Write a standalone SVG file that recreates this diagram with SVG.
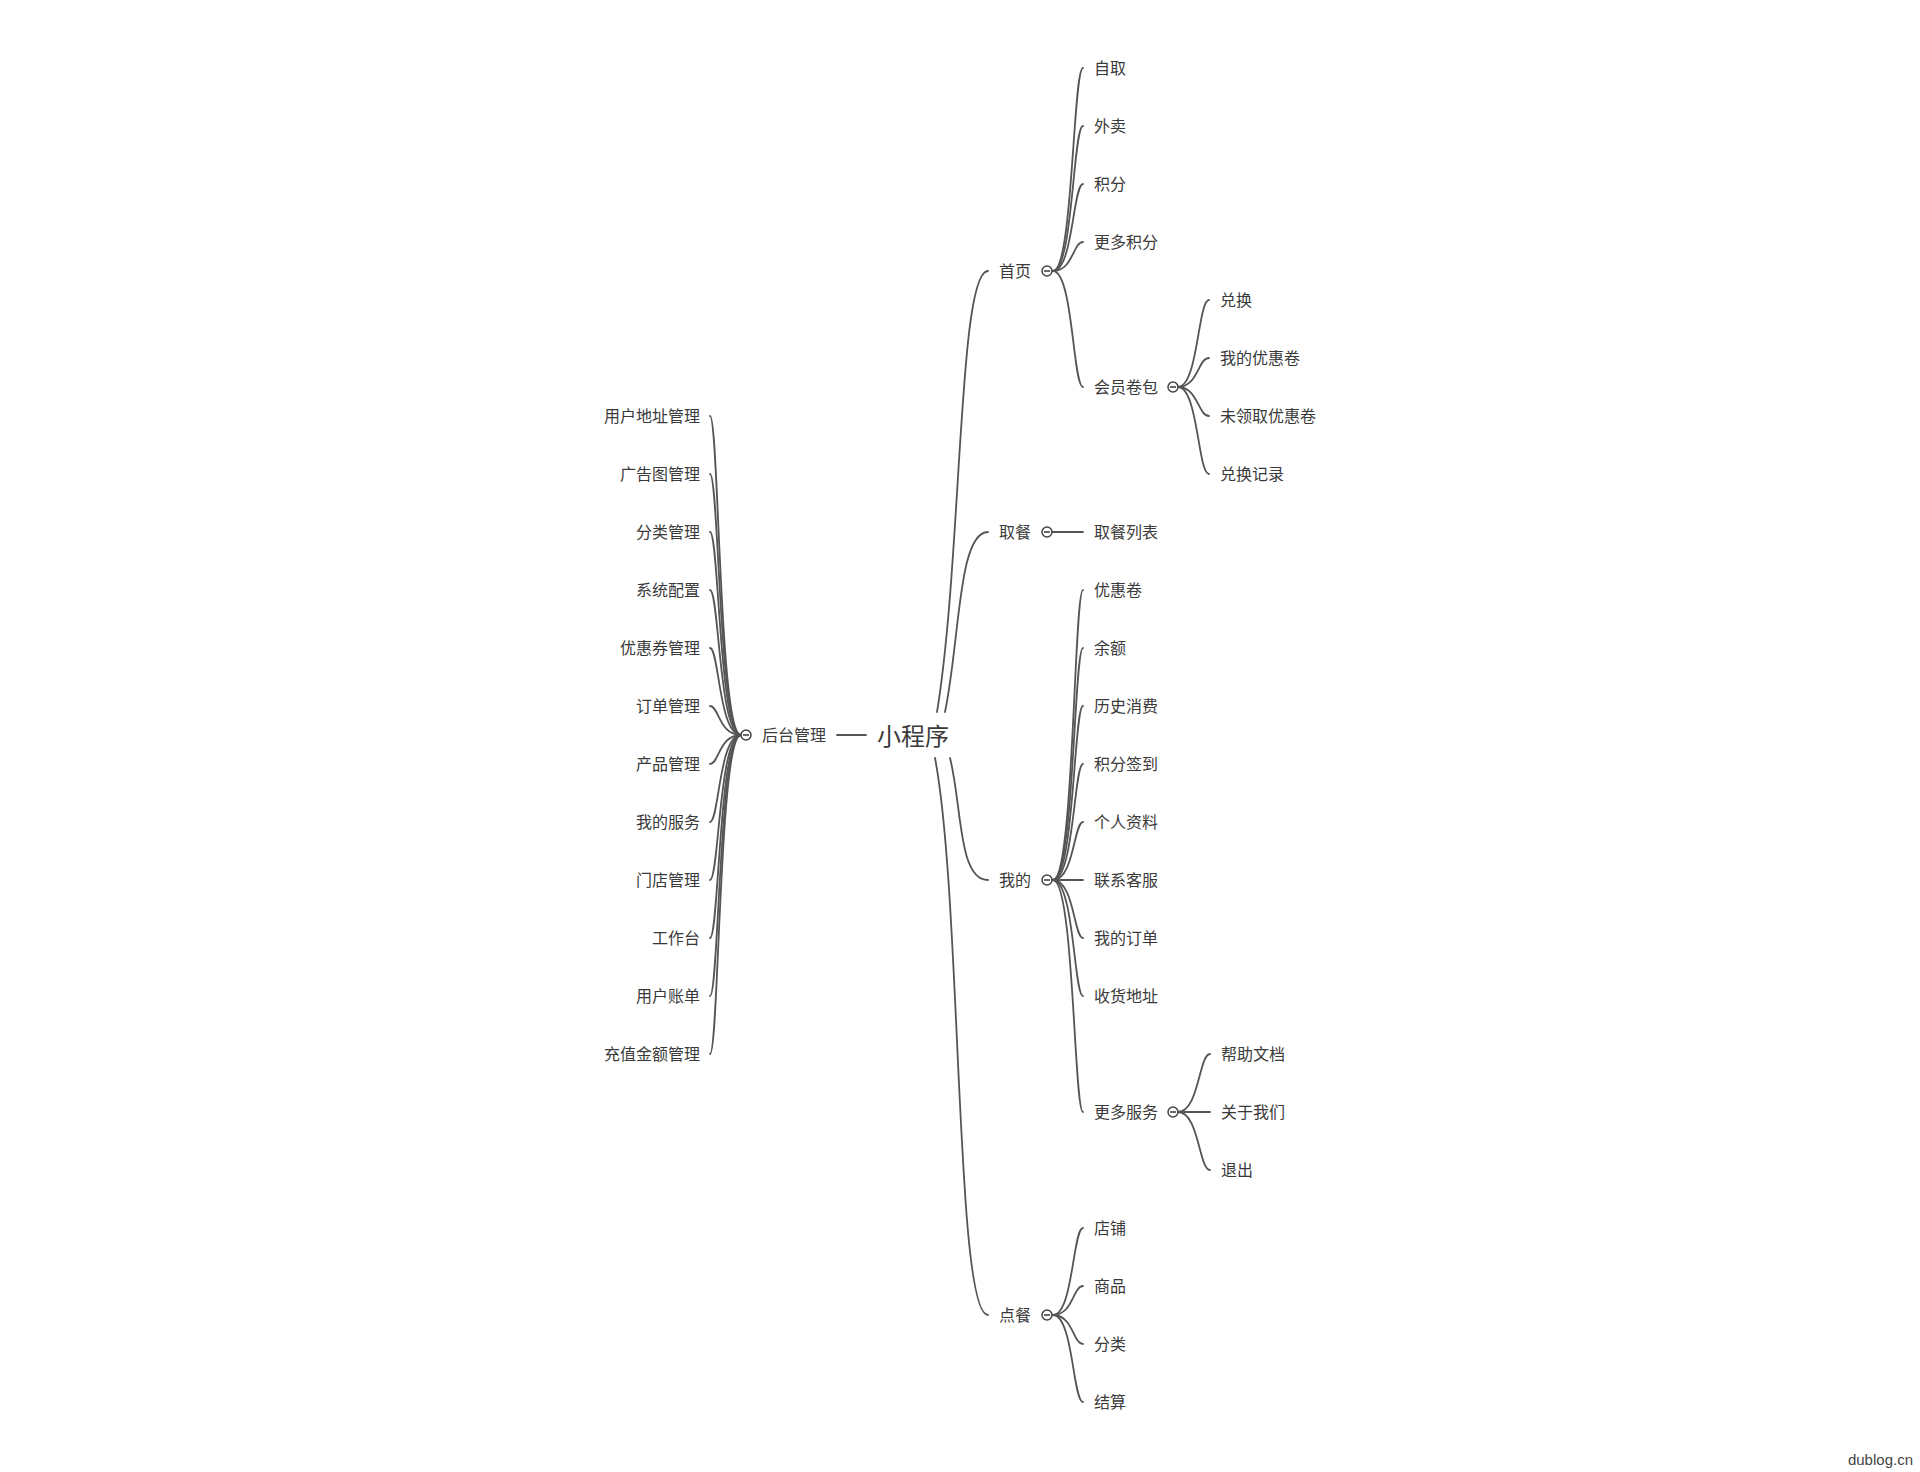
<svg xmlns="http://www.w3.org/2000/svg" xmlns:xlink="http://www.w3.org/1999/xlink" width="1920" height="1472" viewBox="0 0 1920 1472">
<style>
text{font-family:"Microsoft YaHei","Noto Sans CJK SC","Noto Sans",sans-serif;fill:#3a3a3a;font-size:16px;dominant-baseline:central}
.root{font-size:24px}
.r{text-anchor:end}
.wm{font-family:"Liberation Sans","Noto Sans",sans-serif;font-size:15px;fill:#444;dominant-baseline:auto}
#edges path{fill:none;stroke:#555;stroke-width:1.8;stroke-linecap:round}
</style>
<defs>
<g id="tog"><circle r="5" fill="#fff" stroke="#444" stroke-width="1.5"/><path d="M-3 0H3" stroke="#444" stroke-width="1.6"/></g>
</defs>
<rect width="1920" height="1472" fill="#fff"/>
<g id="edges">
<path d="M937 712 C962 560 958 271 988 271"/>
<path d="M945 712 C960 640 958 532 988 532"/>
<path d="M950 758 C962 805 958 880 988 880"/>
<path d="M935 758 C962 900 955 1315 988 1315"/>
<path d="M837 735 H866"/>
<path d="M1053 271 C1073 271 1073 68 1083 68"/>
<path d="M1053 271 C1073 271 1073 126 1083 126"/>
<path d="M1053 271 C1073 271 1073 184 1083 184"/>
<path d="M1053 271 C1073 271 1073 242 1083 242"/>
<path d="M1053 271 C1073 271 1073 387 1083 387"/>
<path d="M1178 387 C1198 387 1198 300 1209 300"/>
<path d="M1178 387 C1198 387 1198 358 1209 358"/>
<path d="M1178 387 C1198 387 1198 416 1209 416"/>
<path d="M1178 387 C1198 387 1198 474 1209 474"/>
<path d="M1052 532 H1083"/>
<path d="M1053 880 C1074 880 1074 590 1083 590"/>
<path d="M1053 880 C1074 880 1074 648 1083 648"/>
<path d="M1053 880 C1074 880 1074 706 1083 706"/>
<path d="M1053 880 C1074 880 1074 764 1083 764"/>
<path d="M1053 880 C1074 880 1074 822 1083 822"/>
<path d="M1052 880 H1083"/>
<path d="M1053 880 C1074 880 1074 938 1083 938"/>
<path d="M1053 880 C1074 880 1074 996 1083 996"/>
<path d="M1053 880 C1074 880 1074 1112 1083 1112"/>
<path d="M1178 1112 C1199 1112 1199 1054 1210 1054"/>
<path d="M1178 1112 H1210"/>
<path d="M1178 1112 C1199 1112 1199 1170 1210 1170"/>
<path d="M1053 1315 C1073 1315 1073 1228 1083 1228"/>
<path d="M1053 1315 C1073 1315 1073 1286 1083 1286"/>
<path d="M1053 1315 C1073 1315 1073 1344 1083 1344"/>
<path d="M1053 1315 C1073 1315 1073 1402 1083 1402"/>
<path d="M741 735 C719 735 719 416 710 416"/>
<path d="M741 735 C719 735 719 474 710 474"/>
<path d="M741 735 C719 735 719 532 710 532"/>
<path d="M741 735 C719 735 719 590 710 590"/>
<path d="M741 735 C719 735 719 648 710 648"/>
<path d="M741 735 C719 735 719 706 710 706"/>
<path d="M741 735 C719 735 719 764 710 764"/>
<path d="M741 735 C719 735 719 822 710 822"/>
<path d="M741 735 C719 735 719 880 710 880"/>
<path d="M741 735 C719 735 719 938 710 938"/>
<path d="M741 735 C719 735 719 996 710 996"/>
<path d="M741 735 C719 735 719 1054 710 1054"/>
</g>
<g id="node-root"><text class="root" x="877" y="734">小程序</text></g>
<g id="node-shouye"><text x="999" y="270">首页</text><use xlink:href="#tog" x="1047" y="271"/></g>
<g id="node-ziqu"><text x="1094" y="67">自取</text></g>
<g id="node-waimai"><text x="1094" y="125">外卖</text></g>
<g id="node-jifen"><text x="1094" y="183">积分</text></g>
<g id="node-gengduojifen"><text x="1094" y="241">更多积分</text></g>
<g id="node-huiyuan"><text x="1094" y="386">会员卷包</text><use xlink:href="#tog" x="1173" y="387"/></g>
<g id="node-duihuan"><text x="1220" y="299">兑换</text></g>
<g id="node-wodeyouhui"><text x="1220" y="357">我的优惠卷</text></g>
<g id="node-weilingqu"><text x="1220" y="415">未领取优惠卷</text></g>
<g id="node-duihuanjilu"><text x="1220" y="473">兑换记录</text></g>
<g id="node-qucan"><text x="999" y="531">取餐</text><use xlink:href="#tog" x="1047" y="532"/></g>
<g id="node-qucanliebiao"><text x="1094" y="531">取餐列表</text></g>
<g id="node-wode"><text x="999" y="879">我的</text><use xlink:href="#tog" x="1047" y="880"/></g>
<g id="node-youhuijuan"><text x="1094" y="589">优惠卷</text></g>
<g id="node-yue"><text x="1094" y="647">余额</text></g>
<g id="node-lishi"><text x="1094" y="705">历史消费</text></g>
<g id="node-qiandao"><text x="1094" y="763">积分签到</text></g>
<g id="node-geren"><text x="1094" y="821">个人资料</text></g>
<g id="node-kefu"><text x="1094" y="879">联系客服</text></g>
<g id="node-dingdan"><text x="1094" y="937">我的订单</text></g>
<g id="node-dizhi"><text x="1094" y="995">收货地址</text></g>
<g id="node-gengduofuwu"><text x="1094" y="1111">更多服务</text><use xlink:href="#tog" x="1173" y="1112"/></g>
<g id="node-bangzhu"><text x="1221" y="1053">帮助文档</text></g>
<g id="node-guanyu"><text x="1221" y="1111">关于我们</text></g>
<g id="node-tuichu"><text x="1221" y="1169">退出</text></g>
<g id="node-diancan"><text x="999" y="1314">点餐</text><use xlink:href="#tog" x="1047" y="1315"/></g>
<g id="node-dianpu"><text x="1094" y="1227">店铺</text></g>
<g id="node-shangpin"><text x="1094" y="1285">商品</text></g>
<g id="node-fenlei"><text x="1094" y="1343">分类</text></g>
<g id="node-jiesuan"><text x="1094" y="1401">结算</text></g>
<g id="node-houtai"><text x="762" y="734">后台管理</text><use xlink:href="#tog" x="746" y="735"/></g>
<g id="node-l1"><text class="r" x="700" y="415">用户地址管理</text></g>
<g id="node-l2"><text class="r" x="700" y="473">广告图管理</text></g>
<g id="node-l3"><text class="r" x="700" y="531">分类管理</text></g>
<g id="node-l4"><text class="r" x="700" y="589">系统配置</text></g>
<g id="node-l5"><text class="r" x="700" y="647">优惠券管理</text></g>
<g id="node-l6"><text class="r" x="700" y="705">订单管理</text></g>
<g id="node-l7"><text class="r" x="700" y="763">产品管理</text></g>
<g id="node-l8"><text class="r" x="700" y="821">我的服务</text></g>
<g id="node-l9"><text class="r" x="700" y="879">门店管理</text></g>
<g id="node-l10"><text class="r" x="700" y="937">工作台</text></g>
<g id="node-l11"><text class="r" x="700" y="995">用户账单</text></g>
<g id="node-l12"><text class="r" x="700" y="1053">充值金额管理</text></g>
<text class="wm" x="1913" y="1465" text-anchor="end">dublog.cn</text>
</svg>
